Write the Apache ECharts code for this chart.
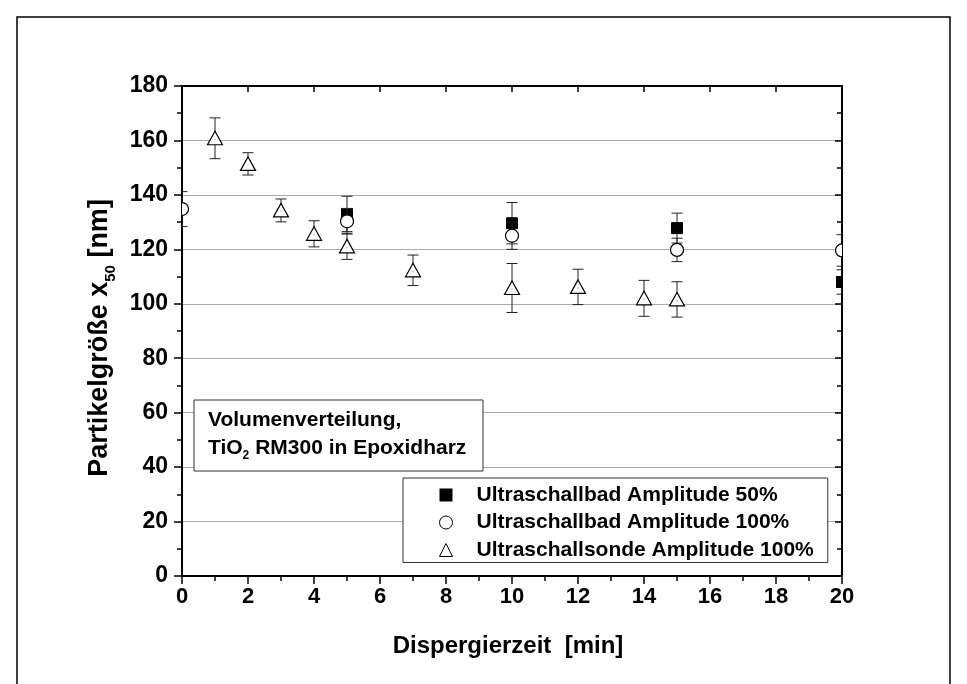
<!DOCTYPE html>
<html>
<head>
<meta charset="utf-8">
<script src="https://cdn.jsdelivr.net/npm/echarts@6/dist/echarts.min.js"></script>
<style>
  html, body { margin: 0; padding: 0; background: #fff; }
  #chart { width: 967px; height: 684px; }
</style>
</head>
<body>
<div id="chart"></div>
<script>
// ---- data ----
const bad50Name = 'Ultraschallbad Amplitude 50%';
const bad50X = [5, 10, 15, 20];
const bad50Y = [133.0, 129.6, 127.8, 108.0];
const bad50Err = [6.5, 7.6, 5.5, 4.5];

const bad100Name = 'Ultraschallbad Amplitude 100%';
const bad100X = [0, 5, 10, 15, 20];
const bad100Y = [134.8, 130.3, 125.0, 119.8, 119.6];
const bad100Err = [6.4, 4.7, 5.0, 4.3, 5.8];

const sondeName = 'Ultraschallsonde Amplitude 100%';
const sondeX = [1, 2, 3, 4, 5, 7, 10, 12, 14, 15];
const sondeY = [160.8, 151.4, 134.3, 125.7, 121.1, 112.3, 105.8, 106.2, 102.0, 101.6];
const sondeErr = [7.5, 4.1, 4.2, 4.8, 4.8, 5.6, 9.0, 6.5, 6.6, 6.5];

const xTicks = [0, 2, 4, 6, 8, 10, 12, 14, 16, 18, 20];
const yTicks = [0, 20, 40, 60, 80, 100, 120, 140, 160, 180];

const FONT = "'Liberation Sans', Arial, Helvetica, sans-serif";

function rows(xs, ys, es) { return xs.map((x, i) => [x, ys[i], es[i]]); }

function makeRender(shape) {
  return function (params, api) {
    const x = api.value(0), y = api.value(1), e = api.value(2);
    const c = api.coord([x, y]);
    const hi = api.coord([x, y + e]);
    const lo = api.coord([x, y - e]);
    const cap = 5.5;
    const ls = { stroke: '#222', lineWidth: 1 };
    const children = [
      { type: 'line', shape: { x1: c[0], y1: hi[1], x2: c[0], y2: lo[1] }, style: ls },
      { type: 'line', shape: { x1: c[0] - cap, y1: hi[1], x2: c[0] + cap, y2: hi[1] }, style: ls },
      { type: 'line', shape: { x1: c[0] - cap, y1: lo[1], x2: c[0] + cap, y2: lo[1] }, style: ls }
    ];
    if (shape === 'square') {
      children.push({ type: 'rect', shape: { x: c[0] - 5.5, y: c[1] - 5.5, width: 11, height: 11 },
        style: { fill: '#000', stroke: '#000', lineWidth: 1 } });
    } else if (shape === 'circle') {
      children.push({ type: 'circle', shape: { cx: c[0], cy: c[1], r: 6.5 },
        style: { fill: '#fff', stroke: '#000', lineWidth: 1.2 } });
    } else {
      children.push({ type: 'polygon', shape: { points: [[c[0], c[1] - 7], [c[0] - 7.5, c[1] + 6.5], [c[0] + 7.5, c[1] + 6.5]] },
        style: { fill: '#fff', stroke: '#000', lineWidth: 1.2 } });
      children.push({ type: 'circle', shape: { cx: c[0], cy: c[1] + 1, r: 0.6 }, style: { fill: '#888' } });
    }
    return { type: 'group', children: children };
  };
}

const chart = echarts.init(document.getElementById('chart'), null, { renderer: 'canvas' });

const axisLineStyle = { color: '#000', width: 2 };

const option = {
  animation: false,
  backgroundColor: '#fff',
  grid: { left: 182, right: 125, top: 86, bottom: 108, containLabel: false },
  xAxis: [
    {
      type: 'value', min: xTicks[0], max: xTicks[xTicks.length - 1], interval: 2, position: 'bottom',
      name: 'Dispergierzeit  [min]', nameLocation: 'middle', nameGap: 58,
      nameTextStyle: { fontFamily: FONT, fontWeight: 'bold', fontSize: 24, color: '#000', padding: [0, 8, 0, 0] },
      axisLine: { show: true, onZero: false, lineStyle: axisLineStyle },
      axisTick: { show: true, inside: false, length: 8, lineStyle: { color: '#000', width: 1.5 } },
      minorTick: { show: true, splitNumber: 2, length: 5, lineStyle: { color: '#000', width: 1.5 } },
      axisLabel: { fontFamily: FONT, fontWeight: 'bold', fontSize: 22, color: '#000', margin: 10 },
      splitLine: { show: false }
    },
    {
      type: 'value', min: 0, max: 20, interval: 2, position: 'top',
      axisLine: { show: true, onZero: false, lineStyle: axisLineStyle },
      axisTick: { show: true, inside: true, length: 6, lineStyle: { color: '#000', width: 1.5 } },
      minorTick: { show: true, splitNumber: 2, length: 0, lineStyle: { color: '#000', width: 1.5 } },
      axisLabel: { show: false },
      splitLine: { show: false }
    }
  ],
  yAxis: [
    {
      type: 'value', min: yTicks[0], max: yTicks[yTicks.length - 1], interval: 20, position: 'left',
      name: '{t|Partikelgröße x}{s|50}{t| [nm]}', nameLocation: 'middle', nameGap: 64, nameRotate: 90,
      nameTextStyle: {
        fontFamily: FONT, fontWeight: 'bold', fontSize: 27, color: '#000', padding: [0, 14, 0, 0],
        rich: {
          t: { fontFamily: FONT, fontWeight: 'bold', fontSize: 27, color: '#000', lineHeight: 36, verticalAlign: 'middle' },
          s: { fontFamily: FONT, fontWeight: 'bold', fontSize: 15, color: '#000', lineHeight: 15, verticalAlign: 'bottom' }
        }
      },
      axisLine: { show: true, onZero: false, lineStyle: axisLineStyle },
      axisTick: { show: true, inside: false, length: 8, lineStyle: { color: '#000', width: 1.5 } },
      minorTick: { show: true, splitNumber: 2, length: 5, lineStyle: { color: '#000', width: 1.5 } },
      axisLabel: { fontFamily: FONT, fontWeight: 'bold', fontSize: 23, color: '#000', margin: 14 },
      splitLine: { show: true, lineStyle: { color: '#aaa', width: 1 } }
    },
    {
      type: 'value', min: 0, max: 180, interval: 20, position: 'right',
      axisLine: { show: true, onZero: false, lineStyle: axisLineStyle },
      axisTick: { show: true, inside: true, length: 7, lineStyle: { color: '#000', width: 1.5 } },
      minorTick: { show: true, splitNumber: 2, length: 5, lineStyle: { color: '#000', width: 1.5 } },
      axisLabel: { show: false },
      splitLine: { show: false }
    }
  ],
  legend: {
    orient: 'vertical', left: 403, top: 478,
    padding: [6.5, 14, 2, 36],
    itemWidth: 13, itemHeight: 13, itemGap: 6.5,
    backgroundColor: '#fff', borderColor: '#333', borderWidth: 1, borderRadius: 0,
    textStyle: { fontFamily: FONT, fontWeight: 'bold', fontSize: 21, color: '#000', lineHeight: 21, padding: [0, 0, 0, 19] },
    selectedMode: false,
    data: [
      { name: bad50Name, icon: 'rect', itemStyle: { color: '#000', borderWidth: 0 } },
      { name: bad100Name, icon: 'circle', itemStyle: { color: '#fff', borderColor: '#000', borderWidth: 1 } },
      { name: sondeName, icon: 'triangle', itemStyle: { color: '#fff', borderColor: '#000', borderWidth: 1 } }
    ],
    z: 20
  },
  graphic: [
    { type: 'rect', shape: { x: 17, y: 17, width: 933, height: 700 }, style: { fill: 'none', stroke: '#000', lineWidth: 1.5 }, z: 50, silent: true },
    { type: 'rect', shape: { x: 194, y: 400, width: 289, height: 71 }, style: { fill: '#fff', stroke: '#333', lineWidth: 1 }, z: 50 },
    { type: 'text', x: 208, y: 420, z: 51,
      style: { text: 'Volumenverteilung,', fontFamily: FONT, fontWeight: 'bold', fontSize: 21, fill: '#000', verticalAlign: 'middle' } },
    { type: 'text', x: 208, y: 448, z: 51,
      style: {
        text: '{a|TiO}{s|2}{a| RM300 in Epoxidharz}', verticalAlign: 'middle',
        rich: {
          a: { fontFamily: FONT, fontWeight: 'bold', fontSize: 21, fill: '#000', lineHeight: 28, verticalAlign: 'middle' },
          s: { fontFamily: FONT, fontWeight: 'bold', fontSize: 12, fill: '#000', lineHeight: 12, verticalAlign: 'bottom' }
        }
      } }
  ],
  series: [
    { name: bad50Name, type: 'custom', clip: true, xAxisIndex: 0, yAxisIndex: 0, z: 3,
      itemStyle: { color: '#000' }, renderItem: makeRender('square'),
      encode: { x: 0, y: 1 }, data: rows(bad50X, bad50Y, bad50Err) },
    { name: bad100Name, type: 'custom', clip: true, xAxisIndex: 0, yAxisIndex: 0, z: 4,
      itemStyle: { color: '#fff', borderColor: '#000' }, renderItem: makeRender('circle'),
      encode: { x: 0, y: 1 }, data: rows(bad100X, bad100Y, bad100Err) },
    { name: sondeName, type: 'custom', clip: true, xAxisIndex: 0, yAxisIndex: 0, z: 5,
      itemStyle: { color: '#fff', borderColor: '#000' }, renderItem: makeRender('triangle'),
      encode: { x: 0, y: 1 }, data: rows(sondeX, sondeY, sondeErr) }
  ]
};

chart.setOption(option);
</script>
</body>
</html>
